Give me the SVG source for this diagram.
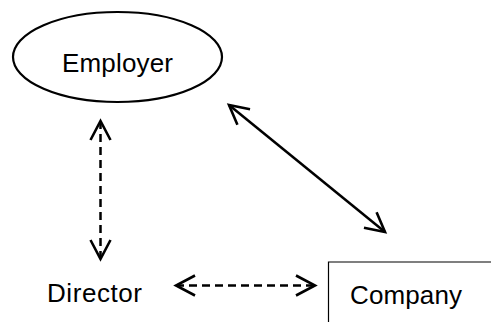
<svg xmlns="http://www.w3.org/2000/svg" width="491" height="322" viewBox="0 0 491 322">
<style>
.lbl{font-family:"Liberation Sans",Arial,sans-serif;font-size:26px;fill:#000}
.edge{stroke:#000;stroke-width:2.5;fill:none}
.dash{stroke-dasharray:8 5}
.shape{stroke:#000;fill:#fff}
</style>
<defs>
<marker id="ah" markerUnits="userSpaceOnUse" viewBox="-24 -14 28 28" refX="0" refY="0" markerWidth="28" markerHeight="28" orient="auto-start-reverse">
<path d="M-19,-10 L0,0 L-19,10" fill="none" stroke="#000" stroke-width="2.6"/>
</marker>
</defs>
<g id="employer">
<ellipse class="shape" cx="117.5" cy="57" rx="104.5" ry="45" stroke-width="2.2"/>
<text class="lbl" x="62" y="72" textLength="111">Employer</text>
</g>
<g id="director">
<text class="lbl" x="47" y="302" textLength="95">Director</text>
</g>
<g id="company">
<path d="M328.5,322 V262 H491" fill="none" stroke="#000" stroke-width="1.2"/>
<text class="lbl" x="350" y="304" textLength="112">Company</text>
</g>
<g id="connectors">
<line class="edge dash" x1="100.5" y1="121" x2="100.5" y2="259" marker-start="url(#ah)" marker-end="url(#ah)"/>
<line class="edge" x1="229" y1="105" x2="385" y2="232" marker-start="url(#ah)" marker-end="url(#ah)"/>
<line class="edge dash" x1="176" y1="285.5" x2="315" y2="285.5" marker-start="url(#ah)" marker-end="url(#ah)"/>
</g>
</svg>
